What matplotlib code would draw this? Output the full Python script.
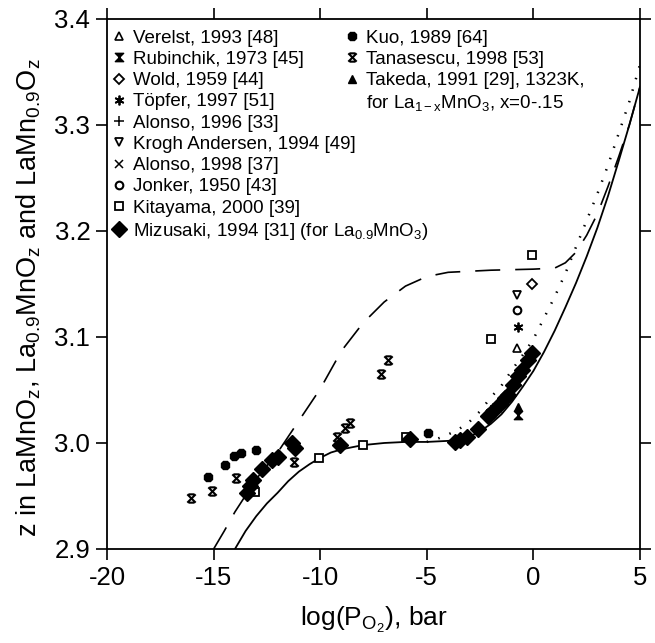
import matplotlib
matplotlib.use('Agg')
import matplotlib.pyplot as plt
from matplotlib.path import Path
from matplotlib.lines import Line2D

plt.rcParams['font.family'] = ['Liberation Sans', 'DejaVu Sans']
plt.rcParams['mathtext.fontset'] = 'custom'
plt.rcParams['mathtext.rm'] = 'Liberation Sans'
plt.rcParams['mathtext.it'] = 'Liberation Sans:italic'
plt.rcParams['mathtext.default'] = 'regular'
plt.rcParams['axes.unicode_minus'] = False

# ---- data ----
verelst_x = [-0.75]
verelst_y = [3.090]
rubinchik_x = [-0.74]
rubinchik_y = [3.026]
wold_x = [-0.08]
wold_y = [3.150]
topfer_x = [-0.74]
topfer_y = [3.109]
alonso96_x = [-2.0]
alonso96_y = [3.031]
krogh_x = [-0.78]
krogh_y = [3.140]
alonso98_x = [-0.70]
alonso98_y = [3.058]
jonker_x = [-0.75]
jonker_y = [3.125]
kitayama_x = [-13.06, -10.04, -8.01, -5.98, -1.99, -0.08]
kitayama_y = [2.954, 2.986, 2.998, 3.006, 3.098, 3.177]
mizusaki_x = [-13.45, -13.29, -13.14, -12.74, -12.25, -12.0, -11.34, -11.2,
              -9.07, -5.79, -3.68, -3.44, -3.13, -2.58, -2.12, -1.88, -1.57,
              -1.33, -1.18, -0.94, -0.71, -0.55, -0.24, -0.08]
mizusaki_y = [2.953, 2.959, 2.965, 2.975, 2.984, 2.987, 3.000, 2.995,
              2.998, 3.004, 3.001, 3.003, 3.006, 3.013, 3.025, 3.030, 3.037,
              3.042, 3.045, 3.055, 3.063, 3.069, 3.078, 3.085]
kuo_x = [-15.25, -14.47, -14.03, -13.71, -13.01, -4.96]
kuo_y = [2.968, 2.979, 2.988, 2.991, 2.993, 3.009]
tanasescu_x = [-16.06, -15.06, -13.95, -11.24, -9.23, -8.84, -8.6, -7.15, -6.81]
tanasescu_y = [2.948, 2.955, 2.967, 2.982, 3.006, 3.014, 3.019, 3.065, 3.078]
takeda_x = [-0.74]
takeda_y = [3.034]

# model curves
solid_x = [-14.0, -13.5, -13.0, -12.5, -12.0, -11.5, -11.0, -10.5, -10.0, -9.5,
           -9.0, -8.0, -7.0, -6.0, -5.0, -4.0, -3.5, -3.0, -2.5, -2.0, -1.5,
           -1.0, -0.5, 0.0, 0.5, 1.0, 1.5, 2.0, 2.5, 3.0, 3.5, 4.0, 4.5, 5.0]
solid_y = [2.900, 2.917, 2.931, 2.943, 2.953, 2.964, 2.973, 2.980, 2.986, 2.991,
           2.994, 2.998, 3.000, 3.001, 3.001, 3.002, 3.003, 3.006, 3.011, 3.018, 3.027,
           3.039, 3.053, 3.068, 3.086, 3.106, 3.128, 3.151, 3.176, 3.203, 3.233, 3.266, 3.300, 3.336]
dash_x = [-15.0, -14.5, -14.0, -13.0, -12.0, -11.0, -10.0, -9.0, -8.0, -7.0, -6.0,
          -5.0, -4.0, -2.0, 0.0, 1.0, 1.5, 2.0, 2.5, 3.0, 3.5, 4.0, 4.5, 5.0]
dash_y = [2.900, 2.917, 2.935, 2.966, 2.991, 3.021, 3.051, 3.087, 3.113, 3.133, 3.148,
          3.157, 3.161, 3.163, 3.164, 3.165, 3.170, 3.180, 3.196, 3.216, 3.242, 3.270, 3.300, 3.336]
dot_x = [-5.0, -4.5, -4.0, -3.5, -3.0, -2.5, -2.0, -1.5, -1.0, -0.5, 0.0, 0.5,
         1.0, 1.5, 2.0, 2.5, 3.0, 3.5, 4.0, 4.5, 5.0]
dot_y = [3.001, 3.004, 3.008, 3.013, 3.020, 3.030, 3.043, 3.054, 3.069, 3.083, 3.098, 3.118,
         3.138, 3.160, 3.185, 3.210, 3.235, 3.262, 3.292, 3.322, 3.357]

xticks = [-20, -15, -10, -5, 0, 5]
yticks = [2.9, 3.0, 3.1, 3.2, 3.3, 3.4]

# custom marker shapes
hourglass = Path([(-1, 1), (1, 1), (-1, -1), (1, -1), (-1, 1)],
                 [Path.MOVETO, Path.LINETO, Path.LINETO, Path.LINETO, Path.CLOSEPOLY])
zhe = Path([(-1, -1), (1, 1), (-1, 1), (1, -1), (-0.7, 1), (0.7, 1), (-0.7, -1), (0.7, -1)],
           [Path.MOVETO, Path.LINETO, Path.MOVETO, Path.LINETO,
            Path.MOVETO, Path.LINETO, Path.MOVETO, Path.LINETO])

fig = plt.figure(figsize=(6.55, 6.43), dpi=100)
ax = fig.add_axes([0.1634, 0.1462, 0.8137, 0.8243])

ax.plot(solid_x, solid_y, color='k', lw=1.3, zorder=2)
ax.plot(dash_x, dash_y, color='k', lw=1.2, dashes=(15, 9), zorder=2)
ax.plot(dot_x, dot_y, color='k', lw=1.8, linestyle=(0, (0.6, 4.2)), zorder=2)

kw = dict(linestyle='none', color='k', zorder=3)
h_ver, = ax.plot(verelst_x, verelst_y, marker='^', ms=6, mfc='white', mew=1.2,
                 label='Verelst, 1993 [48]', **kw)
h_rub, = ax.plot(rubinchik_x, rubinchik_y, marker=hourglass, ms=6,
                 label='Rubinchik, 1973 [45]', **kw)
h_wol, = ax.plot(wold_x, wold_y, marker='D', ms=5, mfc='white', mew=1.3,
                 label='Wold, 1959 [44]', **kw)
h_top, = ax.plot(topfer_x, topfer_y, marker=(6, 2, 0), ms=7, mew=1.3,
                 label='Töpfer, 1997 [51]', **kw)
h_a96, = ax.plot(alonso96_x, alonso96_y, marker='+', ms=7, mew=1.1,
                 label='Alonso, 1996 [33]', **kw)
h_kro, = ax.plot(krogh_x, krogh_y, marker='v', ms=6, mfc='white', mew=1.3,
                 label='Krogh Andersen, 1994 [49]', **kw)
h_a98, = ax.plot(alonso98_x, alonso98_y, marker='x', ms=6, mew=1.1,
                 label='Alonso, 1998 [37]', **kw)
h_jon, = ax.plot(jonker_x, jonker_y, marker='o', ms=5.5, mfc='white', mew=1.5,
                 label='Jonker, 1950 [43]', **kw)
h_kit, = ax.plot(kitayama_x, kitayama_y, marker='s', ms=5.5, mfc='white', mew=1.3,
                 label='Kitayama, 2000 [39]', **kw)
h_miz, = ax.plot(mizusaki_x, mizusaki_y, marker='D', ms=8,
                 label='Mizusaki, 1994 [31] (for La$_{0.9}$MnO$_3$)', **kw)
h_kuo, = ax.plot(kuo_x, kuo_y, marker='8', ms=6.5,
                 label='Kuo, 1989 [64]', **kw)
h_tan, = ax.plot(tanasescu_x, tanasescu_y, marker=zhe, ms=6, mew=1.5, mfc='none',
                 label='Tanasescu, 1998 [53]', **kw)
h_tak, = ax.plot(takeda_x, takeda_y, marker='^', ms=6,
                 label='Takeda, 1991 [29], 1323K,', **kw)
h_blank = Line2D([], [], linestyle='none', marker='none',
                 label='for La$_{1-x}$MnO$_3$, x=0-.15')

leg_kw = dict(loc='upper left', frameon=False, fontsize=13.5, handlelength=0.8,
              handletextpad=0.35, labelspacing=0.22, borderpad=0, borderaxespad=0,
              numpoints=1)
leg1 = ax.legend(handles=[h_ver, h_rub, h_wol, h_top, h_a96, h_kro, h_a98, h_jon,
                          h_kit, h_miz], bbox_to_anchor=(0.0075, 0.98), **leg_kw)
ax.add_artist(leg1)
ax.legend(handles=[h_kuo, h_tan, h_tak, h_blank], bbox_to_anchor=(0.4456, 0.98), **leg_kw)

ax.set_xlim(-20, 5)
ax.set_ylim(2.9, 3.4)
ax.set_xticks(xticks)
ax.set_yticks(yticks)
ax.set_yticklabels(['%.1f' % v for v in yticks])
ax.tick_params(direction='out', length=8, width=1.2, labelsize=18.5, pad=4,
               top=True, right=True)
for s in ax.spines.values():
    s.set_linewidth(1.3)

ax.set_xlabel('log(P$_{O_2}$), bar', fontsize=19, labelpad=11)
ax.set_ylabel('z in LaMnO$_z$, La$_{0.9}$MnO$_z$ and LaMn$_{0.9}$O$_z$', fontsize=19.5)
ax.yaxis.set_label_coords(-0.12, 0.475)

fig.savefig('out.png', dpi=100)
